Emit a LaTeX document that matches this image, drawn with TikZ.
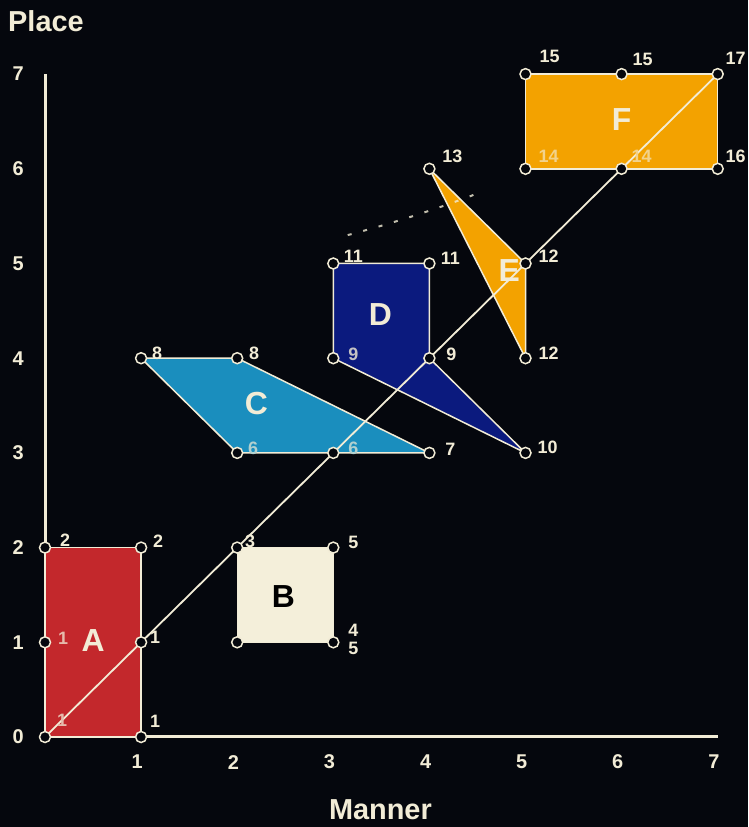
\documentclass[tikz,border=0pt]{standalone}
\usepackage{fontspec}
\setmainfont{Liberation Sans}
\definecolor{bg}{HTML}{05070D}
\definecolor{cream}{HTML}{F2ECD6}
\definecolor{redA}{HTML}{C3282C}
\definecolor{creamB}{HTML}{F4EFDA}
\definecolor{cyanC}{HTML}{1A8EBE}
\definecolor{navyD}{HTML}{0B1A7E}
\definecolor{orangeE}{HTML}{F3A200}
\begin{document}
\begin{tikzpicture}[x=96.1bp,y=94.7bp,
 vtx/.style={circle,draw=cream,fill=bg,line width=1.5bp,minimum size=11bp,inner sep=0pt},
 vlab/.style={text=cream,font=\fontsize{18}{18}\selectfont\bfseries,inner sep=0pt},
 inlab/.style={vlab,text=#1},
 tick/.style={text=cream,font=\fontsize{20}{20}\selectfont\bfseries,inner sep=0pt},
 big/.style={font=\fontsize{32}{32}\selectfont\bfseries,inner sep=0pt},
 axlab/.style={text=cream,font=\fontsize{29}{29}\selectfont\bfseries,inner sep=0pt},
 edge/.style={draw=cream,line width=1.5bp,line join=round},
]
\fill[bg] (-0.4683,-0.9504) rectangle (7.3153,7.7825);
\useasboundingbox (-0.4683,-0.9504) rectangle (7.3153,7.7825);

% coordinates
\coordinate (a00) at (0,0); \coordinate (a10) at (1,0);
\coordinate (a01) at (0,1); \coordinate (a11) at (1,1);
\coordinate (a02) at (0,2); \coordinate (a12) at (1,2);
\coordinate (b22) at (2,2); \coordinate (b32) at (3,2);
\coordinate (b21) at (2,1); \coordinate (b31) at (3,1);
\coordinate (c14) at (1,4); \coordinate (c24) at (2,4);
\coordinate (c23) at (2,3); \coordinate (c33) at (3,3); \coordinate (c43) at (4,3);
\coordinate (d35) at (3,5); \coordinate (d45) at (4,5);
\coordinate (d34) at (3,4); \coordinate (d44) at (4,4); \coordinate (d53) at (5,3);
\coordinate (e46) at (4,6); \coordinate (e55) at (5,5); \coordinate (e54) at (5,4);
\coordinate (f57) at (5,7); \coordinate (f67) at (6,7); \coordinate (f77) at (7,7);
\coordinate (f56) at (5,6); \coordinate (f66) at (6,6); \coordinate (f76) at (7,6);
\coordinate (yTop) at (0,7);

% axes
\draw[cream,line width=3bp] (yTop) -- (a00) -- (f77 |- a00);

% shapes
\path[edge,fill=redA] (a00) -- (a10) -- (a12) -- (a02) -- cycle;
\path[edge,fill=creamB,line width=1.2bp] (b21) -- (b31) -- (b32) -- (b22) -- cycle;
\path[edge,fill=cyanC] (c14) -- (c24) -- (c43) -- (c23) -- cycle;
\path[edge,fill=navyD] (d35) -- (d45) -- (d44) -- (d53) -- (d34) -- cycle;
\path[edge,fill=orangeE] (e46) -- (e55) -- (e54) -- cycle;
\path[edge,fill=orangeE] (f56) -- (f76) -- (f77) -- (f57) -- cycle;

% faint dashed arc
\draw[cream,opacity=0.8,line width=2bp,dash pattern=on 4bp off 12bp]
  (3.15,5.30) .. controls (3.6,5.42) and (4.1,5.58) .. (4.55,5.76);

% diagonal
\draw[cream,line width=1.8bp] (a00) -- (f77);

% vertices
\foreach \v in {a00,a10,a01,a11,a02,a12,b22,b32,b21,b31,c14,c24,c23,c33,c43,
  d35,d45,d34,d44,d53,e46,e55,e54,f57,f67,f77,f56,f66,f76}
  \node[vtx] (v-\v) at (\v) {};

% vertex labels
\node[inlab=redA!25!cream] (l-a00) at ([shift={(17bp,17bp)}]a00) {1};
\node[vlab] (l-a10) at ([shift={(14bp,16bp)}]a10) {1};
\node[inlab=redA!25!cream] (l-a01) at ([shift={(18bp,4bp)}]a01) {1};
\node[vlab] (l-a11) at ([shift={(14bp,5bp)}]a11) {1};
\node[vlab] (l-a02) at ([shift={(20bp,7bp)}]a02) {2};
\node[vlab] (l-a12) at ([shift={(17bp,6bp)}]a12) {2};
\node[vlab] (l-b22) at ([shift={(13bp,6bp)}]b22) {3};
\node[vlab] (l-b32) at ([shift={(20bp,5bp)}]b32) {5};
\node[vlab] (l-b31a) at ([shift={(20bp,12bp)}]b31) {4};
\node[vlab] (l-b31b) at ([shift={(20bp,-6bp)}]b31) {5};
\node[vlab] (l-c14) at ([shift={(16bp,5bp)}]c14) {8};
\node[vlab] (l-c24) at ([shift={(17bp,5bp)}]c24) {8};
\node[inlab=cyanC!30!cream] (l-c23) at ([shift={(16bp,5bp)}]c23) {6};
\node[inlab=cyanC!30!cream] (l-c33) at ([shift={(20bp,5bp)}]c33) {6};
\node[vlab] (l-c43) at ([shift={(21bp,4bp)}]c43) {7};
\node[vlab] (l-d35) at ([shift={(20bp,7bp)}]d35) {11};
\node[vlab] (l-d45) at ([shift={(21bp,5bp)}]d45) {11};
\node[inlab=navyD!20!cream] (l-d34) at ([shift={(20bp,4bp)}]d34) {9};
\node[vlab] (l-d44) at ([shift={(22bp,4bp)}]d44) {9};
\node[vlab] (l-d53) at ([shift={(22bp,6bp)}]d53) {10};
\node[vlab] (l-e46) at ([shift={(23bp,12bp)}]e46) {13};
\node[vlab] (l-e55) at ([shift={(23bp,7bp)}]e55) {12};
\node[vlab] (l-e54) at ([shift={(23bp,5bp)}]e54) {12};
\node[vlab] (l-f57) at ([shift={(24bp,18bp)}]f57) {15};
\node[vlab] (l-f67) at ([shift={(21bp,15bp)}]f67) {15};
\node[vlab] (l-f77) at ([shift={(18bp,16bp)}]f77) {17};
\node[inlab=orangeE!35!cream] (l-f56) at ([shift={(23bp,12bp)}]f56) {14};
\node[inlab=orangeE!35!cream] (l-f66) at ([shift={(20bp,12bp)}]f66) {14};
\node[vlab] (l-f76) at ([shift={(18bp,12bp)}]f76) {16};

% big letters
\node[big,text=cream] (nA) at (0.5,1.02) {A};
\node[big,text=black] (nB) at (2.48,1.48) {B};
\node[big,text=cream] (nC) at (2.2,3.52) {C};
\node[big,text=cream] (nD) at (3.49,4.46) {D};
\node[big,text=cream] (nE) at (4.83,4.93) {E};
\node[big,text=cream] (nF) at (6.0,6.52) {F};

% ticks
\foreach \i in {0,...,7} \node[tick] (ty\i) at (-0.28,\i) {\i};
\foreach \i in {1,...,7} \node[tick] (tx\i) at (\i-0.04,-0.265) {\i};

% axis labels
\node[axlab] (place) at (0.01,7.56) {Place};
\node[axlab] (manner) at (3.49,-0.77) {Manner};
\end{tikzpicture}
\end{document}
